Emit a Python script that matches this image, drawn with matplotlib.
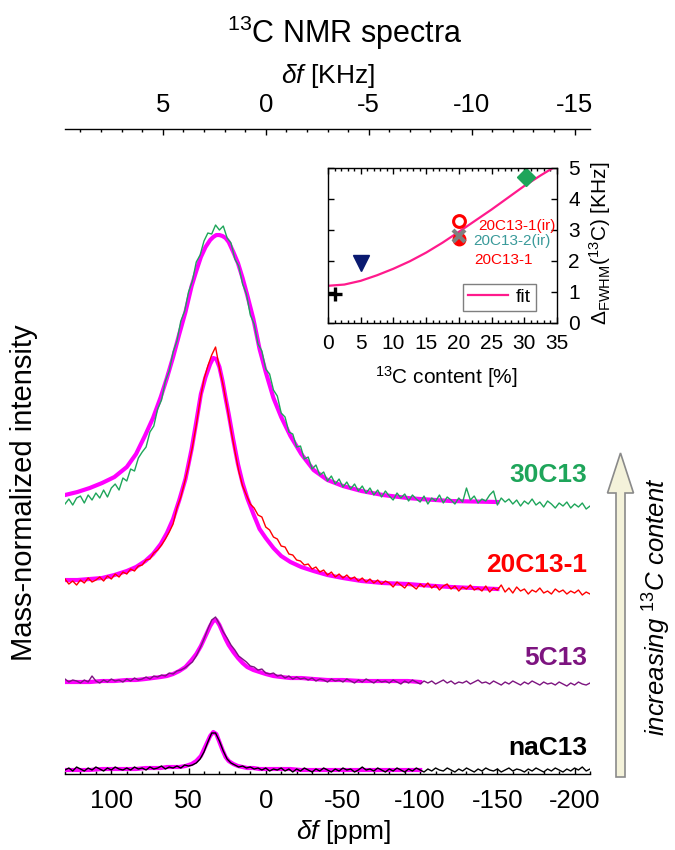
import numpy as np
import matplotlib
matplotlib.use('Agg')
import matplotlib.pyplot as plt
from matplotlib.ticker import MultipleLocator, FixedLocator
from matplotlib.patches import FancyArrow

plt.rcParams['font.family'] = ['Liberation Sans', 'DejaVu Sans']
plt.rcParams['mathtext.fontset'] = 'custom'
plt.rcParams['mathtext.rm'] = 'Liberation Sans'
plt.rcParams['mathtext.it'] = 'Liberation Sans:italic'
plt.rcParams['mathtext.bf'] = 'Liberation Sans:bold'
plt.rcParams['axes.unicode_minus'] = False

# 13C spectrometer: 75 Hz per ppm
KHZ_PER_PPM = 0.075

# chemical shift grid of the measured spectra (2.5 ppm steps, 130 ... -210 ppm)
ppm = np.arange(130, -210.1, -2.5)

# measured spectra, intensity above each trace's own baseline (a.u.)
spec_30C13 = [0.10, 0.15, 0.09, 0.16, 0.18, 0.11, 0.19, 0.14, 0.21, 0.16,
              0.24, 0.17, 0.26, 0.30, 0.24, 0.36, 0.33, 0.45, 0.43, 0.56,
              0.62, 0.67, 0.82, 0.88, 1.05, 1.14, 1.33, 1.43, 1.62, 1.73,
              1.93, 2.03, 2.22, 2.33, 2.52, 2.59, 2.73, 2.81, 2.80, 2.89,
              2.84, 2.88, 2.76, 2.71, 2.55, 2.48, 2.30, 2.20, 1.99, 1.90,
              1.70, 1.63, 1.45, 1.40, 1.24, 1.18, 1.01, 0.97, 0.82, 0.80,
              0.67, 0.68, 0.55, 0.57, 0.45, 0.49, 0.39, 0.42, 0.33, 0.38,
              0.30, 0.35, 0.27, 0.32, 0.25, 0.30, 0.23, 0.28, 0.21, 0.26,
              0.19, 0.24, 0.17, 0.23, 0.18, 0.14, 0.21, 0.16, 0.20, 0.13,
              0.19, 0.15, 0.12, 0.18, 0.10, 0.16, 0.13, 0.19, 0.11, 0.17,
              0.14, 0.10, 0.16, 0.12, 0.26, 0.14, 0.18, 0.11, 0.15, 0.13,
              0.19, 0.23, 0.09, 0.16, 0.12, 0.15, 0.10, 0.14, 0.08, 0.13,
              0.10, 0.15, 0.09, 0.12, 0.07, 0.13, 0.10, 0.06, 0.11, 0.08,
              0.12, 0.06, 0.10, 0.07, 0.11, 0.05, 0.08]
spec_20C13 = [0.15, 0.10, 0.13, 0.09, 0.14, 0.11, 0.16, 0.12, 0.14, 0.17,
              0.13, 0.18, 0.15, 0.20, 0.17, 0.22, 0.20, 0.25, 0.23, 0.28,
              0.29, 0.34, 0.35, 0.41, 0.44, 0.49, 0.55, 0.62, 0.70, 0.86,
              0.97, 1.12, 1.28, 1.47, 1.69, 1.94, 2.15, 2.28, 2.39, 2.47,
              2.26, 2.08, 1.87, 1.64, 1.43, 1.23, 1.08, 0.99, 0.90, 0.86,
              0.79, 0.77, 0.67, 0.64, 0.57, 0.55, 0.48, 0.47, 0.40, 0.39,
              0.34, 0.33, 0.29, 0.30, 0.25, 0.27, 0.22, 0.24, 0.19, 0.22,
              0.17, 0.20, 0.16, 0.19, 0.15, 0.17, 0.13, 0.16, 0.12, 0.15,
              0.11, 0.14, 0.10, 0.13, 0.11, 0.07, 0.12, 0.09, 0.06, 0.11,
              0.08, 0.05, 0.10, 0.07, 0.11, 0.06, 0.09, 0.04, 0.08, 0.10,
              0.05, 0.08, 0.03, 0.07, 0.05, 0.09, 0.04, 0.06, 0.03, 0.08,
              0.02, 0.06, 0.04, 0.09, 0.02, 0.06, 0.01, 0.07, 0.03, 0.05,
              0.00, 0.04, 0.02, 0.06, 0.01, 0.03, 0.00, 0.05, 0.02, 0.04,
              0.00, 0.03, 0.01, 0.04, -0.01, 0.02, 0.00]
spec_5C13 = [0.05, 0.02, 0.04, 0.03, 0.01, 0.04, 0.02, 0.08, 0.03, 0.01,
             0.04, 0.02, 0.05, 0.03, 0.04, 0.02, 0.05, 0.03, 0.06, 0.04,
             0.05, 0.07, 0.05, 0.08, 0.07, 0.09, 0.08, 0.11, 0.10, 0.13,
             0.14, 0.16, 0.19, 0.22, 0.28, 0.36, 0.45, 0.55, 0.64, 0.67,
             0.60, 0.52, 0.46, 0.39, 0.34, 0.28, 0.25, 0.22, 0.18, 0.17,
             0.14, 0.15, 0.11, 0.10, 0.11, 0.08, 0.09, 0.06, 0.08, 0.05,
             0.07, 0.05, 0.06, 0.04, 0.06, 0.03, 0.05, 0.04, 0.02, 0.05,
             0.03, 0.04, 0.02, 0.05, 0.03, 0.01, 0.04, 0.02, 0.05, 0.03,
             0.01, 0.04, 0.02, 0.03, 0.01, 0.04, 0.02, 0.00, 0.03, 0.01,
             0.04, 0.02, 0.00, 0.03, 0.01, 0.03, 0.00, 0.02, 0.04, 0.01,
             0.03, 0.00, 0.02, 0.01, 0.03, 0.00, 0.02, 0.04, 0.01, 0.02,
             0.00, 0.03, 0.01, -0.01, 0.02, 0.00, 0.03, 0.01, -0.01, 0.02,
             0.00, 0.03, 0.01, -0.01, 0.02, 0.00, 0.01, -0.01, 0.02, 0.00,
             -0.02, 0.01, -0.01, 0.02, 0.00, -0.01, 0.01]
spec_naC13 = [0.04, 0.06, 0.03, 0.07, 0.05, 0.03, 0.06, 0.04, 0.07, 0.05,
              0.03, 0.06, 0.04, 0.07, 0.05, 0.04, 0.06, 0.04, 0.07, 0.05,
              0.06, 0.04, 0.07, 0.05, 0.06, 0.08, 0.05, 0.07, 0.06, 0.08,
              0.06, 0.09, 0.08, 0.09, 0.11, 0.15, 0.22, 0.32, 0.41, 0.41,
              0.33, 0.23, 0.15, 0.11, 0.09, 0.07, 0.08, 0.06, 0.07, 0.05,
              0.06, 0.04, 0.06, 0.03, 0.05, 0.04, 0.06, 0.03, 0.05, 0.02,
              0.05, 0.03, 0.06, 0.04, 0.02, 0.05, 0.03, 0.06, 0.04, 0.02,
              0.05, 0.03, 0.06, 0.04, 0.05, 0.02, 0.04, 0.07, 0.04, 0.05,
              0.03, 0.06, 0.04, 0.02, 0.05, 0.03, 0.06, 0.04, 0.02, 0.05,
              0.03, 0.06, 0.04, 0.02, 0.05, 0.03, 0.06, 0.04, 0.03, 0.06,
              0.04, 0.02, 0.05, 0.03, 0.06, 0.04, 0.02, 0.05, 0.03, 0.06,
              0.04, 0.03, 0.05, 0.02, 0.04, 0.06, 0.03, 0.05, 0.04, 0.02,
              0.05, 0.03, 0.06, 0.04, 0.02, 0.05, 0.03, 0.06, 0.04, 0.02,
              0.05, 0.03, 0.06, 0.04, 0.07, 0.03, 0.05]

# fitted line shapes, sampled on their own shift grid
fit_ppm = [130, 122, 114, 106, 98, 90, 84, 78, 73, 68, 64, 60, 56, 52, 48, 45, 42, 39, 36,
           34, 32, 30, 28, 26, 24, 21, 18, 15, 12, 8, 4, 0, -5, -10, -16, -23, -31, -40,
           -50, -62, -76, -92, -100, -120, -150]
fit_30C13 = [0.19, 0.22, 0.26, 0.31, 0.37, 0.47, 0.60, 0.79, 0.96, 1.17, 1.36, 1.57, 1.80,
             2.02, 2.28, 2.43, 2.57, 2.67, 2.74, 2.77, 2.79, 2.79, 2.78, 2.76, 2.72, 2.62,
             2.51, 2.36, 2.19, 1.95, 1.65, 1.42, 1.16, 0.97, 0.78, 0.60, 0.44, 0.34, 0.28,
             0.23, 0.19, 0.16, 0.15, 0.13, 0.12]
fit_20C13 = [0.14, 0.14, 0.15, 0.16, 0.19, 0.23, 0.27, 0.33, 0.40, 0.50, 0.61, 0.75, 0.94,
             1.15, 1.45, 1.72, 2.00, 2.17, 2.30, 2.36, 2.35, 2.27, 2.13, 1.96, 1.80, 1.54,
             1.30, 1.11, 0.96, 0.80, 0.65, 0.56, 0.46, 0.38, 0.32, 0.27, 0.23, 0.19, 0.16,
             0.13, 0.11, 0.10, 0.09, 0.07, 0.05]
fit_5C13 = [0.02, 0.02, 0.02, 0.03, 0.03, 0.04, 0.04, 0.05, 0.06, 0.07, 0.08, 0.10, 0.13,
            0.17, 0.24, 0.30, 0.38, 0.48, 0.58, 0.63, 0.64, 0.59, 0.52, 0.45, 0.39, 0.32,
            0.26, 0.21, 0.17, 0.14, 0.12, 0.10, 0.08, 0.07, 0.06, 0.06, 0.05, 0.04, 0.04,
            0.03, 0.03, 0.03, 0.02]
fit_naC13 = [0.04, 0.04, 0.04, 0.05, 0.05, 0.05, 0.05, 0.06, 0.06, 0.06, 0.07, 0.07, 0.07,
             0.08, 0.10, 0.13, 0.18, 0.28, 0.38, 0.42, 0.40, 0.32, 0.24, 0.17, 0.13, 0.10,
             0.08, 0.07, 0.06, 0.06, 0.05, 0.05, 0.05, 0.05, 0.05, 0.04, 0.04, 0.04, 0.04,
             0.04, 0.04, 0.04, 0.04]

# linewidth vs 13C content (inset)
c13_content = [1.1, 5.0, 20.0, 20.0, 20.0, 30.2]
fwhm_khz = [0.93, 1.92, 2.70, 2.82, 3.30, 4.70]
fit_content = [0, 2.5, 5, 7.5, 10, 12.5, 15, 17.5, 20, 22.5, 25, 27.5, 30, 32.5, 35]
fit_fwhm = [1.20, 1.24, 1.36, 1.54, 1.75, 1.99, 2.27, 2.59, 2.94, 3.30, 3.66, 4.04, 4.42, 4.76, 5.08]

# stacking of the traces and placement of their names
offsets = {'30C13': 2.6, '20C13-1': 1.8, '5C13': 0.9, 'naC13': 0.0}
name_y = {'30C13': 2.99, '20C13-1': 2.09, '5C13': 1.16, 'naC13': 0.26}

fig = plt.figure(figsize=(6.75, 8.5), dpi=100)
ax = fig.add_axes([0.0963, 0.0894, 0.7778, 0.7588])

traces = [('naC13', spec_naC13, fit_naC13, 'black'),
          ('5C13', spec_5C13, fit_5C13, '#7d1480'),
          ('20C13-1', spec_20C13, fit_20C13, '#ff0000'),
          ('30C13', spec_30C13, fit_30C13, '#1ea55a')]

for name, spec, fit, color in traces:
    off = offsets[name]
    ax.plot(fit_ppm[:len(fit)], np.array(fit) + off, color='#ff00ff', lw=3, zorder=2,
            solid_joinstyle='round')
    ax.plot(ppm, np.array(spec) + off, color=color, lw=1.0, zorder=3)
    ax.text(-208, name_y[name], name, ha='right', va='center', fontsize=19,
            fontweight='bold', color=color)

ax.set_xlim(130, -210)
ax.set_ylim(0, 6.45)
ax.set_yticks([])
for side in ['left', 'right', 'top']:
    ax.spines[side].set_visible(False)
ax.spines['bottom'].set_linewidth(1.0)
ax.xaxis.set_major_locator(MultipleLocator(50))
ax.xaxis.set_minor_locator(MultipleLocator(10))
ax.tick_params(axis='x', which='major', direction='in', length=4.5, width=1,
               labelsize=18.5, pad=11)
ax.tick_params(axis='x', which='minor', direction='in', length=2.5, width=1)

ax.set_xlabel(r'$\delta f$ [ppm]', fontsize=19, va='center')
ax.xaxis.set_label_coords(0.53, -0.09)
ax.set_ylabel('Mass-normalized intensity', fontsize=21, va='center')
ax.yaxis.set_label_coords(-0.078, 0.436)

# frequency offset scale on top
secax = ax.secondary_xaxis('top', functions=(lambda p: p * KHZ_PER_PPM,
                                             lambda k: k / KHZ_PER_PPM))
secax.xaxis.set_major_locator(FixedLocator([5, 0, -5, -10, -15]))
secax.xaxis.set_minor_locator(FixedLocator(np.arange(9, -16, -1)))
secax.tick_params(which='major', direction='in', length=4.5, width=1, labelsize=18.5, pad=9)
secax.tick_params(which='minor', direction='in', length=2.5, width=1)
secax.spines['top'].set_linewidth(1.0)
secax.set_xlabel(r'$\delta f$ [KHz]', fontsize=19, labelpad=7)

fig.text(0.511, 0.961, r'$^{13}$C NMR spectra', ha='center', va='center', fontsize=22)

# arrow on the right, pixel units
over = fig.add_axes([0, 0, 1, 1])
over.set_xlim(0, 675)
over.set_ylim(850, 0)
over.axis('off')
over.add_patch(FancyArrow(620.5, 777, 0, -324, width=9, head_width=26, head_length=40,
                          length_includes_head=True, fc='#f4f2da', ec='#8a8a8a', lw=1.2))
over.text(657, 607, r'increasing $^{\mathit{13}}$C content', rotation=90, style='italic',
          ha='center', va='center', fontsize=18.5)

# inset: linewidth vs 13C content
axin = fig.add_axes([0.4859, 0.62, 0.3393, 0.1824])
axin.plot(fit_content, fit_fwhm, color='#ff1a8c', lw=1.6, label='fit', zorder=2)
axin.plot(c13_content[0], fwhm_khz[0], marker='+', color='black', ms=10, mew=2.4, ls='none')
axin.plot(c13_content[1], fwhm_khz[1], marker='v', color='#0a1a70', ms=12, ls='none')
axin.plot(c13_content[2], fwhm_khz[2], marker='o', color='#ff0000', ms=9, ls='none')
axin.plot(c13_content[3], fwhm_khz[3], marker='x', color='#7f7f7f', ms=8, mew=3, ls='none')
axin.plot(c13_content[4], fwhm_khz[4], marker='o', mfc='white', mec='#ff0000', ms=8.5,
          mew=2.2, ls='none')
axin.plot(c13_content[5], fwhm_khz[5], marker='D', color='#1ea55a', ms=9, ls='none')

axin.text(23.0, 3.13, '20C13-1(ir)', color='#ff0000', fontsize=11, va='center')
axin.text(22.2, 2.66, '20C13-2(ir)', color='#3a9a9a', fontsize=11, va='center')
axin.text(22.4, 2.03, '20C13-1', color='#ff0000', fontsize=11, va='center')

axin.set_xlim(0, 35)
axin.set_ylim(0, 5)
axin.xaxis.set_major_locator(MultipleLocator(5))
axin.xaxis.set_minor_locator(MultipleLocator(1))
axin.yaxis.set_major_locator(MultipleLocator(1))
axin.tick_params(which='both', direction='in', top=True, bottom=True, left=True, right=True,
                 labelleft=False, labelright=True, labelsize=15)
axin.tick_params(which='major', length=4.5, width=1, pad=8)
axin.tick_params(which='minor', length=2.5, width=1)
for s in axin.spines.values():
    s.set_linewidth(1.0)
axin.set_xlabel(r'$^{13}$C content [%]', fontsize=15, va='center')
axin.xaxis.set_label_coords(0.515, -0.348)
axin.yaxis.set_label_position('right')
axin.set_ylabel(r'$\Delta_{\mathrm{FWHM}}$($^{13}$C) [KHz]', fontsize=15, va='center')
axin.yaxis.set_label_coords(1.188, 0.516)
leg = axin.legend(loc='lower right', bbox_to_anchor=(0.909, 0.078), fontsize=14,
                  handlelength=2.1, handletextpad=0.4, borderpad=0.25, borderaxespad=0,
                  fancybox=False, framealpha=1, edgecolor='#7f7f7f')
leg.get_frame().set_linewidth(1.0)

fig.savefig('out.png', dpi=100)
